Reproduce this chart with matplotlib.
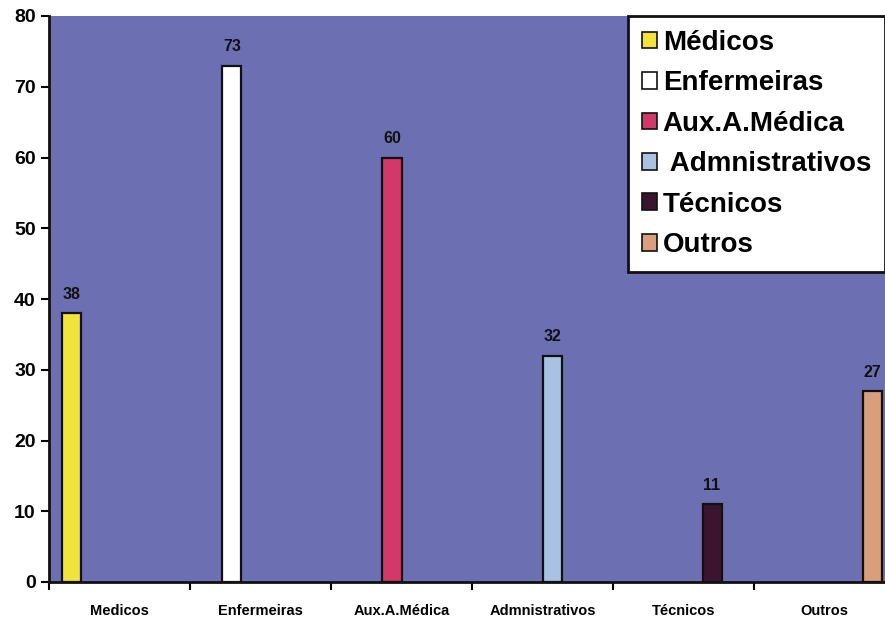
import matplotlib.pyplot as plt
import numpy as np

categories = ["Medicos", "Enfermeiras", "Aux.A.Médica", "Admnistrativos", "Técnicos", "Outros"]
legend_labels = ["Médicos", "Enfermeiras", "Aux.A.Médica", " Admnistrativos", "Técnicos", "Outros"]
values = [38, 73, 60, 32, 11, 27]
colors = ["#f2e33a", "#ffffff", "#d2386a", "#a9c1e2", "#3b1530", "#d99e7c"]
BG = "#6c70b2"
INK = "#111111"

plt.rcParams["font.family"] = ["Liberation Sans", "DejaVu Sans"]
plt.rcParams["font.weight"] = "bold"

fig = plt.figure(figsize=(8.85, 6.19), dpi=100)
ax = fig.add_axes([49 / 885, 1 - 582 / 619, (895 - 49) / 885, (582 - 16) / 619])
ax.set_facecolor(BG)

width = 0.135
cluster = width * len(values)
x = np.arange(len(values))
for i, (value, color, label) in enumerate(zip(values, colors, legend_labels)):
    pos = i - cluster / 2 + width * (i + 0.5)
    ax.bar(pos, value, width=width, color=color, edgecolor=INK, linewidth=1.6, label=label)
    ax.text(pos, value + 1.6, str(value), ha="center", va="bottom", fontsize=11.5,
            fontweight="bold", color=INK)

ax.set_xlim(-0.5, 5.5)
ax.set_ylim(0, 80)
ax.set_yticks(range(0, 81, 10))
ax.set_xticks(x, categories, fontsize=10.5, fontweight="bold")
ax.set_xticks(np.arange(-0.5, 6, 1), minor=True)
ax.tick_params(axis="x", which="major", length=0, pad=16)
ax.tick_params(axis="x", which="minor", length=6, width=1.5, direction="out")
ax.tick_params(axis="y", length=6, width=1.5, labelsize=14, direction="out")
for lbl in ax.get_yticklabels():
    lbl.set_fontweight("bold")
ax.spines[["top", "right"]].set_visible(False)
ax.spines[["left", "bottom"]].set_linewidth(2)
ax.spines[["left", "bottom"]].set_color(INK)

leg = ax.legend(loc="upper left", bbox_to_anchor=(628 / 885, 1 - 16 / 619),
                bbox_transform=fig.transFigure, frameon=True, fancybox=False,
                prop={"size": 20, "weight": "bold"}, handlelength=0.55, handleheight=0.55,
                handletextpad=0.2, labelspacing=0.52, borderpad=0.5, borderaxespad=0)
leg.get_frame().set_edgecolor(INK)
leg.get_frame().set_linewidth(2)
leg.get_frame().set_alpha(1)
for handle in leg.legend_handles:
    handle.set_linewidth(1.2)

fig.savefig("out.png", dpi=100, facecolor="white")
